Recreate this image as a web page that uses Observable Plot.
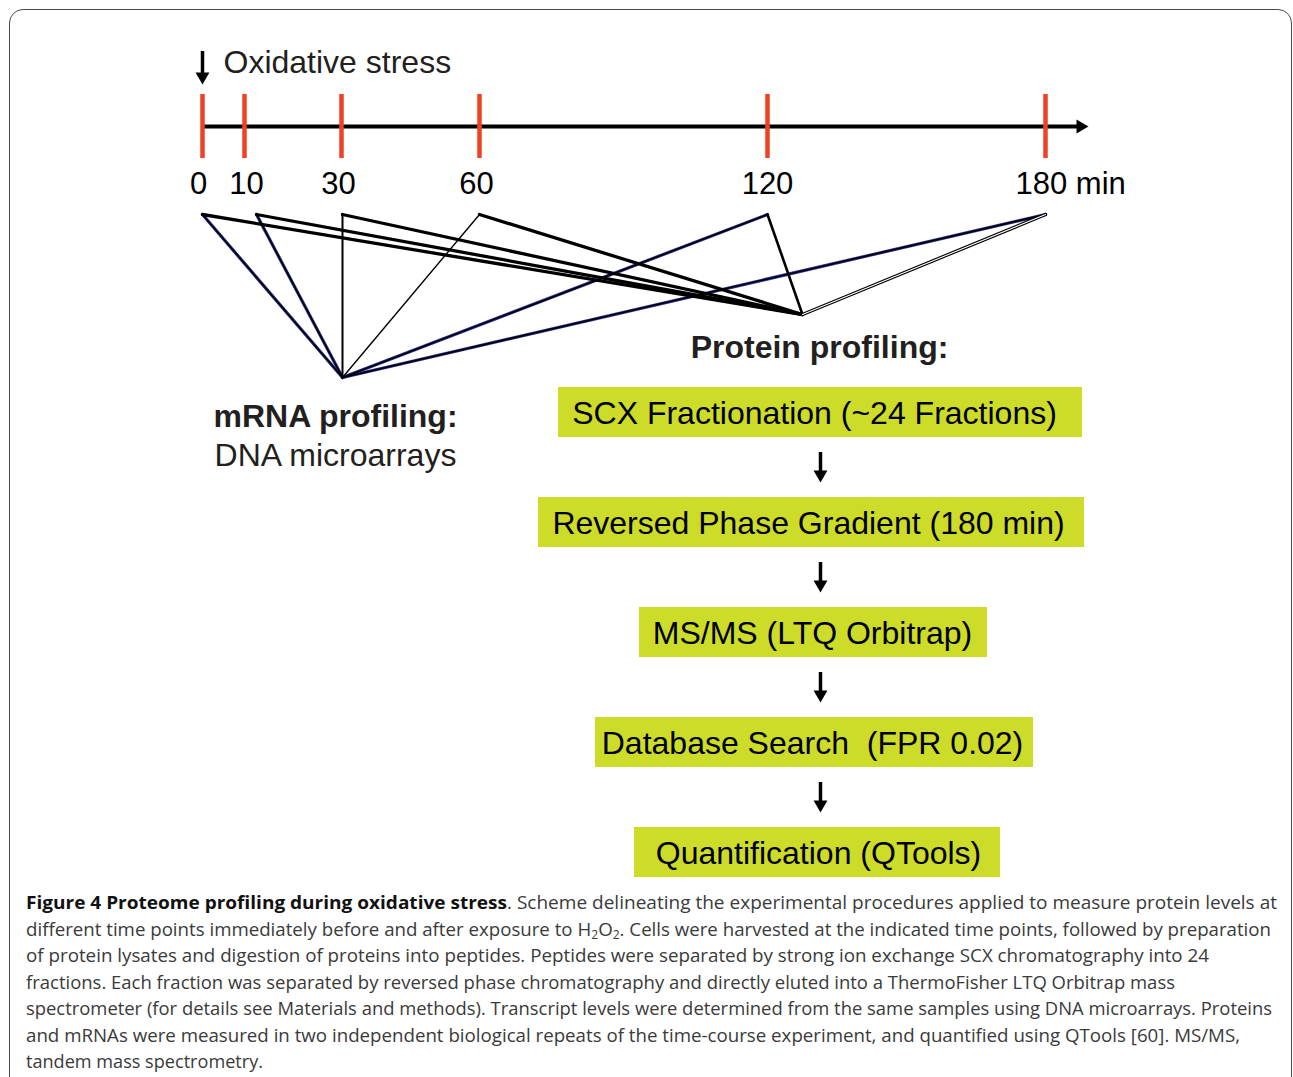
<!DOCTYPE html>
<html><head><meta charset="utf-8">
<script src="https://cdn.jsdelivr.net/npm/d3@7"></script>
<script src="https://cdn.jsdelivr.net/npm/@observablehq/plot@0.6"></script>
<style>
html,body{margin:0;padding:0;background:#fff;overflow:hidden;width:1293px;height:1077px;}
#frame{position:absolute;left:9px;top:9px;width:1281px;height:1130px;border:1.5px solid #4a4a4a;border-radius:14px;}
#chart{position:absolute;left:0;top:0;}
#caption{position:absolute;left:26px;top:889px;font-family:"Open Sans";font-size:18px;line-height:26.5px;color:#3a3a3a;}
#caption .ln{white-space:nowrap;transform-origin:0 50%;}
#caption b{color:#111;font-weight:700}
sub{font-size:0.65em;vertical-align:-0.25em;line-height:0}
</style></head><body>
<div id="frame"></div><div id="chart"></div><div id="caption"></div>
<script>
// ---------------- data ----------------
const times = [0, 10, 30, 60, 120, 180];
const timeLabels = ["0", "10", "30", "60", "120", "180 min"];
const headline = "Oxidative stress";
const hubNames = ["mRNA", "protein"];
const mrnaTitle = "mRNA profiling:";
const mrnaSubtitle = "DNA microarrays";
const proteinTitle = "Protein profiling:";
const steps = [
  "SCX Fractionation (~24 Fractions)",
  "Reversed Phase Gradient (180 min)",
  "MS/MS (LTQ Orbitrap)",
  "Database Search  (FPR 0.02)",
  "Quantification (QTools)"
];
const captionBold = "Figure 4 Proteome profiling during oxidative stress";
const captionLines = [
  ". Scheme delineating the experimental procedures applied to measure protein levels at",
  "different time points immediately before and after exposure to H<sub>2</sub>O<sub>2</sub>. Cells were harvested at the indicated time points, followed by preparation",
  "of protein lysates and digestion of proteins into peptides. Peptides were separated by strong ion exchange SCX chromatography into 24",
  "fractions. Each fraction was separated by reversed phase chromatography and directly eluted into a ThermoFisher LTQ Orbitrap mass",
  "spectrometer (for details see Materials and methods). Transcript levels were determined from the same samples using DNA microarrays. Proteins",
  "and mRNAs were measured in two independent biological repeats of the time-course experiment, and quantified using QTools [60]. MS/MS,",
  "tandem mass spectrometry."
];

// ---------------- layout / styles ----------------
const W = 1293, H = 885;
const tickPx = [202, 244, 341, 479, 767, 1045];          // drawn position of each time point
const px2min = d3.scaleLinear(tickPx, times);             // layout pixels -> minutes (piecewise)
const min2px = d3.scaleLinear(times, tickPx);
const INK = "#231f20", RED = "#ef4123", BOX = "#cddc29", NAVY = "#2e3192";
const FS = 32;
const hubPos = {mRNA: [342, 377], protein: [802, 314]};
const vertexY = 214;
const vertexDx = [0, 12, 1, 0, 0, 0];
const labelDx = [-4, 2, -3, -3, 0];
const mrnaStyle = ["outline", "outline", "w2", "w1", "outline", "outline"];
const proteinStyle = ["w3", "w3", "w3", "w3", "w25", "hollow"];
const boxLeft = [558, 538, 639, 595, 634];
const boxRight = [1082, 1084, 987, 1033, 1000];
const boxTextX = [814, 808, 812, 812, 818];
const boxTop0 = 387, boxStep = 110, boxH = 50;
const stepArrowX = 820;
const captionEnds = [1277, 1271, 1209, 1175, 1272, 1240, 263];

const links = times.flatMap((t, i) => [
  {t, i, hub: "mRNA", style: mrnaStyle[i]},
  {t, i, hub: "protein", style: proteinStyle[i]}
]);
const vx = d => px2min(min2px(d.t) + vertexDx[d.i]);
const linkMark = (filter, stroke, sw) => Plot.link(links.filter(filter), {
  x1: vx, y1: vertexY,
  x2: d => px2min(hubPos[d.hub][0]), y2: d => hubPos[d.hub][1],
  stroke, strokeWidth: sw, strokeLinecap: "round"
});

const boxes = steps.map((s, i) => ({
  label: s,
  x1: px2min(boxLeft[i]), x2: px2min(boxRight[i]), xt: px2min(boxTextX[i]),
  y1: boxTop0 + i * boxStep, y2: boxTop0 + i * boxStep + boxH
}));
const gaps = steps.slice(1).map((s, i) => boxTop0 + i * boxStep + boxH);

const triR = 5.14; // triangle symbol radius (height ~12px)

const plot = Plot.plot({
  width: W, height: H,
  margin: 0,
  x: {type: "linear", domain: [px2min(0), ...times, px2min(W)], range: [0, ...tickPx, W], axis: null},
  y: {type: "linear", domain: [0, H], range: [0, H], axis: null},
  style: {fontFamily: "Liberation Sans, Arial, sans-serif", background: "transparent", color: INK},
  marks: [
    // oxidative stress arrow
    Plot.ruleX([times[0]], {x: d => d, y1: 51, y2: 74, stroke: "#000", strokeWidth: 3.5}),
    Plot.dot([times[0]], {x: d => d, y: 76, symbol: "triangle", r: triR, rotate: 180, fill: "#000", stroke: null}),
    Plot.text([headline], {x: px2min(223), y: 62, text: d => d, textAnchor: "start", fontSize: FS, fill: INK}),
    // timeline
    Plot.ruleY([126], {x1: times[0], x2: px2min(1080), stroke: "#000", strokeWidth: 4}),
    Plot.dot([126], {x: px2min(1080), y: d => d, symbol: "triangle", r: triR, rotate: 90, fill: "#000", stroke: null}),
    Plot.ruleX(times, {x: d => d, y1: 94, y2: 158, stroke: RED, strokeWidth: 4.5}),
    Plot.text(times.slice(0, -1), {x: (d, i) => px2min(min2px(d) + labelDx[i]), y: 184, text: (d, i) => timeLabels[i], fontSize: 31, fill: "#000"}),
    Plot.text(times.slice(-1), {x: d => d, y: 184, text: () => timeLabels[timeLabels.length - 1], textAnchor: "start", dx: -30, fontSize: 31, fill: "#000"}),
    // links
    linkMark(d => d.style === "outline", NAVY, 3.2),
    linkMark(d => d.style === "outline", "#000", 1.6),
    linkMark(d => d.style === "w3", "#000", 3.3),
    linkMark(d => d.style === "w25", "#000", 2.6),
    linkMark(d => d.style === "w2", "#000", 2),
    linkMark(d => d.style === "w1", "#000", 1.4),
    linkMark(d => d.style === "hollow", "#000", 3.4),
    linkMark(d => d.style === "hollow", "#fff", 1.1),
    // titles
    Plot.text([proteinTitle], {x: px2min(819), y: 347, text: d => d, fontSize: FS, fontWeight: "bold", fill: INK}),
    Plot.text([mrnaTitle], {x: px2min(335), y: 416, text: d => d, fontSize: FS, fontWeight: "bold", fill: INK}),
    Plot.text([mrnaSubtitle], {x: px2min(335), y: 455, text: d => d, fontSize: FS, fill: INK}),
    // workflow boxes
    Plot.rect(boxes, {x1: "x1", x2: "x2", y1: "y1", y2: "y2", fill: BOX}),
    Plot.text(boxes, {x: "xt", y: d => (d.y1 + d.y2) / 2 + 1, text: "label", fontSize: FS, fill: "#000"}),
    Plot.ruleX(gaps, {x: px2min(stepArrowX), y1: d => d + 15, y2: d => d + 35, stroke: "#000", strokeWidth: 3.5}),
    Plot.dot(gaps, {x: px2min(stepArrowX), y: d => d + 37, symbol: "triangle", r: triR, rotate: 180, fill: "#000", stroke: null})
  ]
});
document.getElementById("chart").appendChild(plot);

// caption
const cap = document.getElementById("caption");
captionLines.forEach((l, i) => {
  const div = document.createElement("div");
  div.className = "ln";
  div.innerHTML = (i === 0 ? "<b>" + captionBold + "</b>" : "") + l;
  cap.appendChild(div);
});
// fit each line's horizontal scale to its width in the reference
cap.querySelectorAll(".ln").forEach((d, i) => {
  const r = document.createRange(); r.selectNodeContents(d);
  const w = r.getBoundingClientRect().width;
  d.style.transform = `scaleX(${(captionEnds[i] - 26) / w})`;
});
</script></body></html>
